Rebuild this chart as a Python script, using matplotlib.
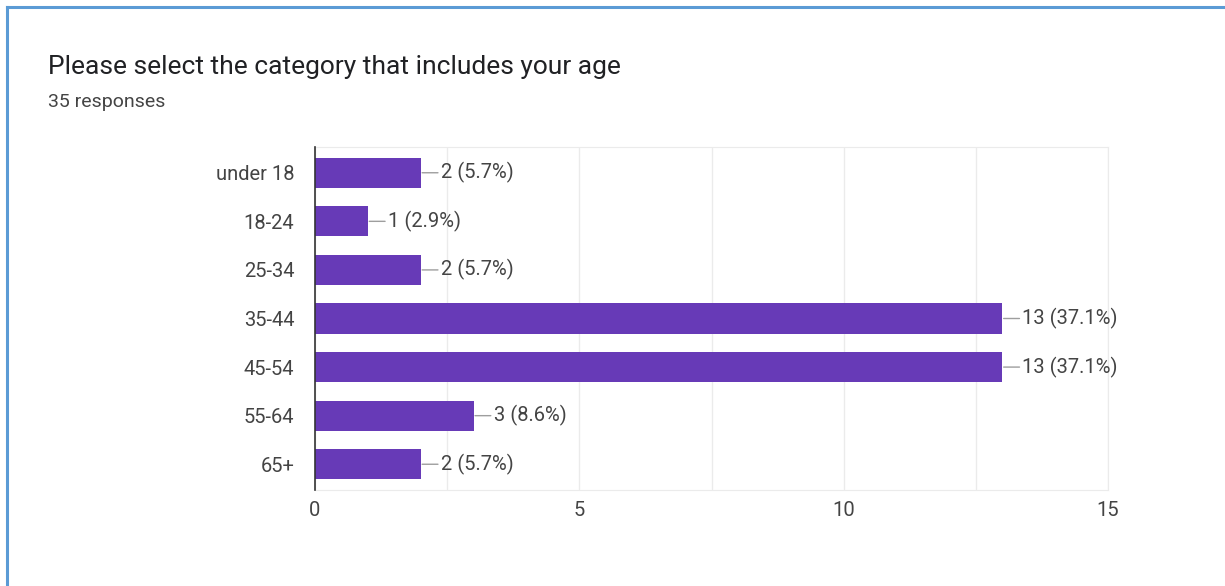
import matplotlib
matplotlib.use("Agg")
import matplotlib.pyplot as plt
from matplotlib.lines import Line2D

TITLE = "Please select the category that includes your age"
SUBTITLE = "35 responses"
categories = ["under 18", "18-24", "25-34", "35-44", "45-54", "55-64", "65+"]
counts = [2, 1, 2, 13, 13, 3, 2]
percents = [5.7, 2.9, 5.7, 37.1, 37.1, 8.6, 5.7]
xticks = [0, 5, 10, 15]

BAR = "#673ab7"
GRID = "#ebebeb"
TEXT = "#444444"

plt.rcParams["font.family"] = ["Roboto", "DejaVu Sans"]

fig = plt.figure(figsize=(12.25, 5.86), dpi=100)
ax = fig.add_axes([315 / 1225, 1 - 490 / 586, (1108 - 315) / 1225, (490 - 147) / 586])

y = list(range(len(categories)))
ax.barh(y, counts, height=0.62, color=BAR, zorder=3)
for yi, c, p in zip(y, counts, percents):
    ax.annotate(f"{c} ({p}%)", xy=(c, yi), xytext=(20, 0), textcoords="offset pixels",
                va="center", ha="left", fontsize=14.5, color=TEXT,
                arrowprops=dict(arrowstyle="-", color="#9e9e9e", lw=1,
                                shrinkA=0, shrinkB=1))

ax.set_xlim(0, 15)
ax.set_ylim(len(categories) - 0.47, -0.53)
ax.set_yticks(y)
ax.set_yticklabels(categories)
ax.set_xticks(xticks)
ax.set_xticks([2.5, 7.5, 12.5], minor=True)
ax.grid(axis="x", which="both", color=GRID, lw=1, zorder=0)
ax.tick_params(axis="both", which="both", length=0, labelsize=14.5, labelcolor=TEXT)
ax.tick_params(axis="y", pad=15)
ax.tick_params(axis="x", pad=8)
for side in ["top", "right", "bottom"]:
    ax.spines[side].set_color(GRID)
ax.spines["left"].set_color("#333333")
ax.spines["left"].set_linewidth(1.2)
ax.spines["left"].set_zorder(4)

fig.text(48 / 1225, 1 - 74 / 586, TITLE, fontsize=19, color="#202124", va="baseline")
fig.text(48 / 1225, 1 - 107 / 586, SUBTITLE, fontsize=14, color="#444444", va="baseline")

# blue frame: top and left edges only
fig.add_artist(Line2D([7 / 1225, 1], [1 - 7 / 586, 1 - 7 / 586], transform=fig.transFigure,
                      color="#5b9bd5", lw=2.2))
fig.add_artist(Line2D([7 / 1225, 7 / 1225], [0, 1 - 7 / 586], transform=fig.transFigure,
                      color="#5b9bd5", lw=2.2))

fig.savefig("out.png", dpi=100)
